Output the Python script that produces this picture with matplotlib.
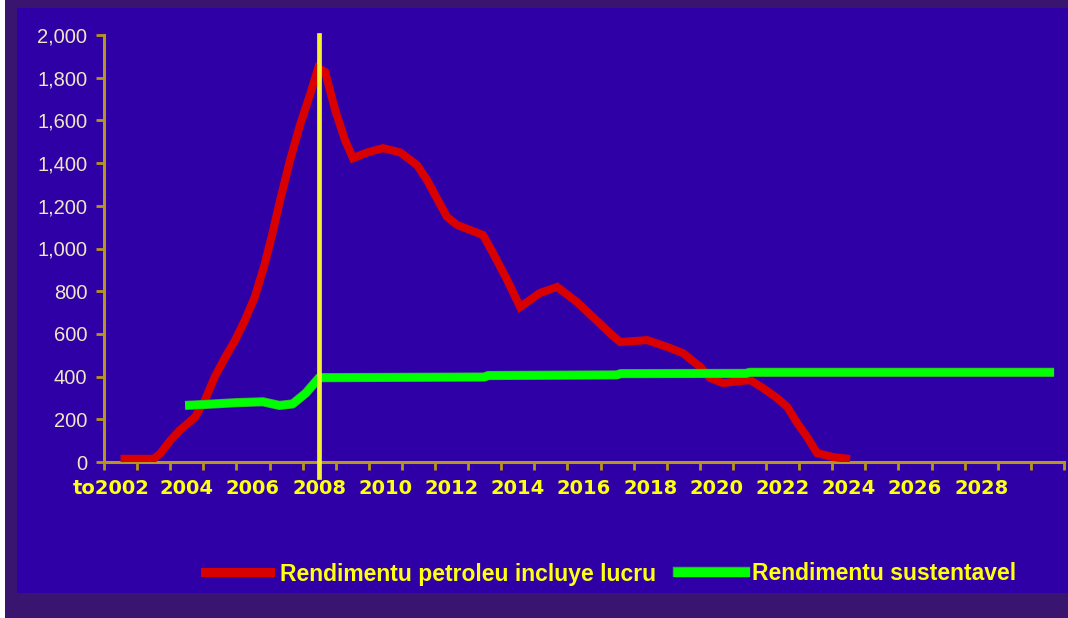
import matplotlib
matplotlib.use("Agg")
import matplotlib.pyplot as plt
from matplotlib.patches import Rectangle
from matplotlib.transforms import ScaledTranslation
import matplotlib.patheffects as pe

# ---- data ----
red_years = [2002.0, 2003.0, 2003.2, 2003.5, 2003.8, 2004.25, 2004.55, 2004.85, 2005.16,
             2005.46, 2005.76, 2006.06, 2006.36, 2006.61, 2006.82, 2007.12, 2007.42,
             2007.72, 2007.97, 2008.18, 2008.48, 2008.78, 2009.02, 2009.45, 2009.93,
             2010.45, 2010.96, 2011.26, 2011.86, 2012.17, 2012.95, 2013.25, 2013.68,
             2014.07, 2014.67, 2015.19, 2015.79, 2016.27, 2016.78, 2017.09, 2017.91,
             2018.51, 2018.99, 2019.51, 2019.81, 2020.2, 2021.02, 2021.41, 2021.83,
             2022.14, 2022.44, 2022.74, 2023.04, 2023.53, 2024.04]
red_values = [15, 15, 40, 100, 150, 210, 290, 400, 490,
              570, 665, 775, 930, 1085, 1227, 1414, 1578,
              1719, 1845, 1827, 1650, 1508, 1423, 1450, 1470,
              1450, 1390, 1320, 1148, 1110, 1063, 979, 852,
              726, 792, 820, 749, 679, 604, 562, 571,
              539, 510, 445, 393, 370, 384, 346, 300,
              258, 183, 117, 42, 23, 14]

green_years = [2003.95, 2004.6, 2005.5, 2006.3, 2006.8, 2007.2, 2007.6, 2008.0, 2013.0,
               2013.1, 2017.0, 2017.1, 2020.9, 2021.0, 2030.2]
green_values = [265, 270, 278, 282, 265, 272, 323, 395, 398,
                405, 408, 414, 415, 420, 420]

x_labels = ["to2002", "2004", "2006", "2008", "2010", "2012", "2014", "2016",
            "2018", "2020", "2022", "2024", "2026", "2028"]
y_ticks = [0, 200, 400, 600, 800, 1000, 1200, 1400, 1600, 1800, 2000]
marker_year = 2008
series_names = ["Rendimentu petroleu incluye lucru", "Rendimentu sustentavel"]

# ---- style ----
W, H = 1068, 618
BLUE = "#2E00A6"
BORDER = "#3A1570"
GOLD = "#B8961C"
YEL = "#FFFF10"
RED = "#D80000"
GREEN = "#00FF00"

fig = plt.figure(figsize=(W / 100, H / 100), dpi=100, facecolor=BORDER)

# background panel drawn in its own axes behind everything
bg = fig.add_axes([0, 0, 1, 1], zorder=-10)
bg.set_xlim(0, W)
bg.set_ylim(H, 0)
bg.axis("off")
bg.add_patch(Rectangle((0, 0), 5, H, facecolor="white", edgecolor="none"))
bg.add_patch(Rectangle((17, 8), W - 17, 593 - 8, facecolor=BLUE, edgecolor="none"))

x0, x1 = 104, 1064
y0, y1 = 462, 35
ax = fig.add_axes([x0 / W, 1 - y0 / H, (x1 - x0) / W, (y0 - y1) / H], zorder=1)
ax.set_facecolor("none")
ax.set_xlim(2001.5, 2030.5)
ax.set_ylim(0, 2000)

for s in ["top", "right"]:
    ax.spines[s].set_visible(False)
for s in ["left", "bottom"]:
    ax.spines[s].set_color(GOLD)
    ax.spines[s].set_linewidth(2.2)

ax.set_yticks(y_ticks)
ax.set_yticklabels([f"{v:,}" for v in y_ticks], fontsize=14.5,
                   color="#F0E6C6", family=["Liberation Sans", "DejaVu Sans"])
ax.tick_params(axis="y", direction="out", length=6, width=2, color=GOLD, pad=6)

tick_edges = [2001.5 + k for k in range(30)]
ax.set_xticks(tick_edges)
ax.set_xticklabels([])
ax.set_xticks([2002 + 2 * k for k in range(len(x_labels))], minor=True)
labels = ax.set_xticklabels(x_labels, minor=True, fontsize=14, fontweight="bold",
                            color=YEL, family=["DejaVu Sans"])
ax.tick_params(axis="x", which="major", direction="out", length=6, width=2, color=GOLD)
ax.tick_params(axis="x", which="minor", length=0, pad=12)
# first label sits slightly left of its category centre in the reference
first_tick = ax.xaxis.get_minor_ticks()[0]
first_tick.label1.set_transform(first_tick.label1.get_transform()
                                + ScaledTranslation(-9 / 100, 0, fig.dpi_scale_trans))

ax.plot(red_years, red_values, color=RED, lw=5.8, solid_capstyle="butt",
        solid_joinstyle="miter", zorder=3)
ax.plot(green_years, green_values, color=GREEN, lw=5.6, solid_capstyle="butt",
        zorder=4, path_effects=[pe.Stroke(linewidth=6.6, foreground="#3FA83F"), pe.Normal()])

ax.axvline(marker_year, ymin=-0.035, ymax=1.0, color="#F4F030", lw=3.4,
           clip_on=False, zorder=5)

# legend (manual, to match placement)
ly = 1 - 572 / H
fig.lines.append(plt.Line2D([205 / W, 270 / W], [ly, ly], transform=fig.transFigure,
                            color=RED, lw=6.5))
fig.lines.append(plt.Line2D([678 / W, 745 / W], [ly, ly], transform=fig.transFigure,
                            color=GREEN, lw=6.5,
                            path_effects=[pe.Stroke(linewidth=7.5, foreground="#3FA83F"), pe.Normal()]))
fam = ["Liberation Sans", "DejaVu Sans"]
fig.text(280 / W, ly - 2 / H, series_names[0], color=YEL, fontsize=16.5, fontweight="bold",
         family=fam, va="center", ha="left")
fig.text(752 / W, ly - 2 / H, series_names[1], color=YEL, fontsize=16.5, fontweight="bold",
         family=fam, va="center", ha="left")

fig.savefig("out.png", dpi=100, facecolor=fig.get_facecolor())
